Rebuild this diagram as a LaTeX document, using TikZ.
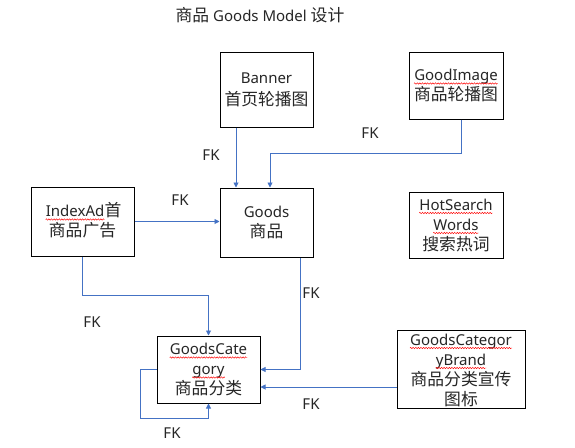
\documentclass[tikz,border=0pt]{standalone}
\usepackage{fontspec}
\setmainfont{Noto Sans}
\newfontfamily\cjkf[Scale=1.12]{Noto Sans CJK SC}
\newcommand\zh[1]{{\cjkf #1}}
\usetikzlibrary{arrows.meta,calc,decorations.pathmorphing}
\definecolor{lnblue}{HTML}{4472C4}
\definecolor{txt}{HTML}{262626}
\begin{document}
\begin{tikzpicture}[x=1pt,y=-1pt,
  box/.style={draw=black, line width=1pt, inner sep=0pt},
  tx/.style={text=txt, font=\fontsize{15}{20}\selectfont, inner sep=0pt, anchor=base},
  conn/.style={draw=lnblue, line width=0.9pt, -{Triangle[length=5pt,width=5pt]}},
  lbl/.style={text=txt, font=\fontsize{15}{18}\selectfont, inner sep=0pt},
  squig/.style={draw=red, line width=0.45pt, decorate, decoration={zigzag, segment length=2.6pt, amplitude=0.7pt}}]
\useasboundingbox[fill=white] (0,0) rectangle (575,447);
\node[lbl] (title) at (260,15) {\zh{商品} Goods Model \zh{设计}};
% boxes
\node[box, minimum width=93pt, minimum height=75pt] (banner) at (266.5,89.5) {};
\node[box, minimum width=94pt, minimum height=67pt] (goodimage) at (456,85.5) {};
\node[box, minimum width=103pt, minimum height=69pt] (indexad) at (82.5,221.5) {};
\node[box, minimum width=93pt, minimum height=69pt] (goods) at (266.5,222.5) {};
\node[box, minimum width=94pt, minimum height=66pt] (hotsearch) at (456,225) {};
\node[box, minimum width=103pt, minimum height=67pt] (gcat) at (208.5,369.5) {};
\node[box, minimum width=128pt, minimum height=78pt] (brand) at (461,369) {};
% texts
\node[tx] (banner1) at ($(banner)+(0,-6)$) {Banner};
\node[tx] (banner2) at ($(banner)+(0,16)$) {\zh{首页轮播图}};
\node[tx] (gi1) at ($(goodimage)+(0,-5)$) {GoodImage};
\node[tx] (gi2) at ($(goodimage)+(0,15)$) {\zh{商品轮播图}};
\node[tx, anchor=base east] (ia1) at ($(indexad)+(22,-5)$) {IndexAd};
\node[tx, anchor=base west] (ia1b) at (ia1.base east) {\zh{首}};
\node[tx] (ia2) at ($(indexad)+(0,15)$) {\zh{商品广告}};
\node[tx] (goods1) at ($(goods)+(0,-5)$) {Goods};
\node[tx] (goods2) at ($(goods)+(0,15)$) {\zh{商品}};
\node[tx] (hs1) at ($(hotsearch)+(0,-15)$) {HotSearch};
\node[tx] (hs2) at ($(hotsearch)+(0,5)$) {Words};
\node[tx] (hs3) at ($(hotsearch)+(0,25)$) {\zh{搜索热词}};
\node[tx] (gc1) at ($(gcat)+(0,-15)$) {GoodsCate};
\node[tx] (gc2) at ($(gcat)+(0,5)$) {gory};
\node[tx] (gc3) at ($(gcat)+(0,25)$) {\zh{商品分类}};
\node[tx] (br1) at ($(brand)+(0,-24)$) {GoodsCategor};
\node[tx] (br2) at ($(brand)+(0,-4)$) {yBrand};
\node[tx] (br3) at ($(brand)+(0,16)$) {\zh{商品分类宣传}};
\node[tx] (br4) at ($(brand)+(0,36)$) {\zh{图标}};
% spelling squiggles
\foreach \w in {gi1,ia1,hs1,hs2,gc1,gc2,br1,br2}
  \draw[squig] ($(\w.base west)+(0,3)$) -- ($(\w.base east)+(0,3)$);
% connectors
\coordinate (bw) at ($(brand.west)+(0,18)$);
\draw[conn] ($(banner.south)+(-30.5,0)$) -- ($(goods.north)+(-30.5,0)$);
\draw[conn] ($(goodimage.south)+(5,0)$) -- ++(0,34) -| ($(goods.north)+(3.5,0)$);
\draw[conn] (indexad.east) -- (indexad.east -| goods.west);
\draw[conn] (indexad.south) -- ++(0,39) -| (gcat.north);
\draw[conn] ($(goods.south)+(33.5,0)$) |- (gcat.east);
\draw[conn] (bw) -- (bw -| gcat.east);
\draw[conn] (gcat.west) -- ++(-16,0) -- ++(0,48.5) -| (gcat.south);
% labels
\node[lbl] (fk1) at (211,155) {FK};
\node[lbl] (fk2) at (370,133) {FK};
\node[lbl] (fk3) at (180,200) {FK};
\node[lbl] (fk4) at (92,322) {FK};
\node[lbl] (fk5) at (311,293) {FK};
\node[lbl] (fk6) at (311,404) {FK};
\node[lbl] (fk7) at (172,433) {FK};
\end{tikzpicture}
\end{document}
